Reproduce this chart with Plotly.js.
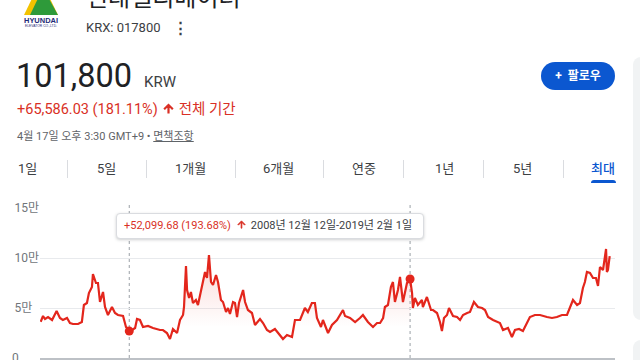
<!DOCTYPE html>
<html><head><meta charset="utf-8">
<script src="https://cdn.plot.ly/plotly-3.0.1.min.js"></script>
<style>
html,body{margin:0;padding:0;width:640px;height:360px;overflow:hidden;background:#fff;font-family:Roboto,Arial,"Noto Sans CJK KR",sans-serif;}
#chart{position:absolute;left:0;top:0;width:640px;height:360px;z-index:1;}
.abs{position:absolute;white-space:nowrap;}
.tab{position:absolute;top:160px;font-size:13px;line-height:18px;color:#3c4043;}
.div{position:absolute;top:160px;width:1px;height:18px;background:#dadce0;}
.red{color:#d93025;}
</style></head><body>
<!-- header -->
<svg class="abs" style="left:20px;top:0px;z-index:2" width="44" height="30" viewBox="0 0 44 30">
  <polygon points="4,15 21,-20 38,15" fill="#f2c200"/>
  <polygon points="10,15 23,-12 38,15" fill="#2e9a3a"/>
  <text x="4" y="23" font-family="Arial" font-weight="bold" font-size="8" fill="#1f2c78" textLength="34" lengthAdjust="spacingAndGlyphs">HYUNDAI</text>
  <text x="5" y="27" font-family="Arial" font-size="3" fill="#1f2c78" textLength="32" lengthAdjust="spacingAndGlyphs">ELEVATOR CO.,LTD.</text>
</svg>
<div class="abs" style="left:86px;top:-15px;font-size:24px;line-height:26px;color:#202124;">현대엘리베이터</div>
<div class="abs" style="left:86px;top:20px;font-size:13px;line-height:16px;color:#3c4043;">KRX: 017800</div>
<div class="abs" style="left:173px;top:19px;font-size:15px;line-height:18px;color:#3c4043;font-weight:bold;">&#8942;</div>

<div class="abs" style="left:16px;top:60px;font-size:32.5px;line-height:32px;color:#202124;">101,800</div>
<div class="abs" style="left:144px;top:75px;font-size:15px;line-height:15px;color:#3c4043;">KRW</div>

<div class="abs red" style="left:17px;top:102px;font-size:14.5px;line-height:16px;">+65,586.03 (181.11%)<svg width="13" height="13" viewBox="0 0 24 24" style="vertical-align:-1px;margin:0 4px 0 4px"><path d="M4 12l1.41 1.41L11 7.83V20h2V7.83l5.58 5.59L20 12l-8-8-8 8z" fill="#d93025" stroke="#d93025" stroke-width="2"/></svg>전체 기간</div>
<div class="abs" style="left:17px;top:130px;font-size:11px;line-height:14px;color:#5f6368;">4월 17일 오후 3:30 GMT+9 • <span style="text-decoration:underline">면책조항</span></div>

<div class="abs" style="left:541px;top:62px;width:74px;height:28px;border-radius:14px;background:#0b57d0;color:#fff;font-size:12px;font-weight:bold;line-height:28px;text-align:center;">+&nbsp; 팔로우</div>

<div class="abs" style="left:633px;top:57px;width:20px;height:263px;border-radius:8px;background:#f1f3f4;"></div>
<div class="abs" style="left:633px;top:340px;width:20px;height:40px;border-radius:8px;background:#f1f3f4;"></div>

<!-- tabs -->
<div class="tab" style="left:18px">1일</div>
<div class="div" style="left:67px"></div>
<div class="tab" style="left:97px">5일</div>
<div class="div" style="left:146px"></div>
<div class="tab" style="left:175px">1개월</div>
<div class="div" style="left:235px"></div>
<div class="tab" style="left:263px">6개월</div>
<div class="div" style="left:323px"></div>
<div class="tab" style="left:352px">연중</div>
<div class="div" style="left:403px"></div>
<div class="tab" style="left:435px">1년</div>
<div class="div" style="left:483px"></div>
<div class="tab" style="left:513px">5년</div>
<div class="div" style="left:563px"></div>
<div class="tab" style="left:591px;color:#0b57d0;font-weight:500;">최대</div>
<div class="abs" style="left:591px;top:180px;width:25px;height:3px;border-radius:3px 3px 0 0;background:#0b57d0;"></div>

<div id="chart"></div>

<!-- tooltip -->
<div class="abs" style="left:116px;top:213px;width:306px;height:24px;border:1px solid #dadce0;border-radius:4px;background:#fff;box-shadow:0 1px 3px rgba(60,64,67,0.25);z-index:3;font-size:11px;line-height:24px;">
  <span class="red" style="margin-left:7px">+52,099.68 (193.68%)</span><svg width="11" height="11" viewBox="0 0 24 24" style="vertical-align:-1px;margin:0 4px 0 5px"><path d="M4 12l1.41 1.41L11 7.83V20h2V7.83l5.58 5.59L20 12l-8-8-8 8z" fill="#d93025" stroke="#d93025" stroke-width="1.5"/></svg><span style="color:#3c4043">2008년 12월 12일-2019년 2월 1일</span>
</div>

<script>
// ---- data (KRW) ----
const dates = [
'2005-10-01','2005-11-01','2005-11-27','2006-01-06','2006-02-28','2006-04-29','2006-06-12','2006-07-21','2006-09-13','2006-10-22',
'2006-12-01','2007-02-06','2007-03-28','2007-04-24','2007-06-03','2007-06-29','2007-08-08','2007-08-21','2007-09-30','2007-10-26',
'2007-11-22','2008-01-01','2008-01-27','2008-03-06','2008-04-28','2008-06-07','2008-07-16','2008-09-21','2008-10-30','2008-12-12',
'2009-01-18','2009-02-27','2009-03-24','2009-05-02','2009-06-11','2009-08-16','2009-10-21','2010-01-22','2010-03-01','2010-04-23',
'2010-06-02','2010-07-11','2010-09-03','2010-10-12','2010-11-21','2010-12-04','2010-12-30','2011-01-13','2011-02-09','2011-03-05',
'2011-04-01','2011-05-10','2011-06-06','2011-07-15','2011-08-11','2011-09-07','2011-10-03','2011-10-29','2011-11-25','2011-12-21',
'2012-01-30','2012-02-25','2012-04-04','2012-05-01','2012-06-10','2012-07-06','2012-08-01','2012-09-10','2012-10-06','2012-11-02',
'2012-11-28','2013-01-21','2013-02-16','2013-03-26','2013-05-18','2013-06-27','2013-09-01','2013-10-11','2013-12-02','2014-01-11',
'2014-03-17','2014-04-26','2014-07-01','2014-08-23','2014-10-28','2014-12-06','2015-02-11','2015-04-16','2015-05-25','2015-07-17',
'2015-08-26','2015-09-22','2015-11-14','2015-12-10','2016-02-15','2016-04-07','2016-06-12','2016-08-30','2016-09-26','2016-12-01',
'2017-02-06','2017-04-11','2017-05-20','2017-07-25','2017-09-30','2017-11-22','2018-01-01','2018-02-10','2018-03-06','2018-04-15',
'2018-05-24','2018-06-20','2018-07-16','2018-08-25','2018-09-21','2018-10-30','2018-11-26','2018-12-22','2019-02-01','2019-02-27',
'2019-03-10','2019-04-06','2019-05-15','2019-07-07','2019-07-20','2019-09-11','2019-11-04','2019-11-30','2020-01-22','2020-03-01',
'2020-03-27','2020-04-23','2020-06-02','2020-06-28','2020-08-20','2020-10-12','2020-11-21','2020-12-30','2021-02-22','2021-04-01',
'2021-05-23','2021-07-15','2021-09-07','2021-10-16','2021-11-25','2022-01-30','2022-05-01','2022-06-10','2022-08-15','2022-10-06',
'2022-11-15','2023-01-08','2023-02-28','2023-04-21','2023-05-31','2023-08-05','2023-10-11','2024-01-11','2024-03-17','2024-05-21',
'2024-07-27','2024-10-01','2024-11-10','2024-12-19','2025-02-11','2025-03-21','2025-04-29','2025-05-25','2025-06-21','2025-07-31',
'2025-09-09','2025-10-18','2025-11-14','2025-12-10','2026-01-19','2026-02-28','2026-03-11','2026-03-25','2026-04-17'
];
const prices = [
36200,42000,39000,41000,38000,47000,40000,38000,40000,35000,
34000,34000,36000,53000,55000,65000,71000,84000,75000,75000,
56000,66000,51000,43000,51000,45000,43000,42000,31000,26900,
28000,30000,39000,38000,31000,32000,30000,28000,28000,25000,
19000,29000,25000,38000,43000,51000,92000,68000,60000,66000,
55000,58000,53000,68000,76000,86000,80000,103000,76000,73000,
83000,76000,58000,56000,46000,50000,44000,56000,55000,41000,
55000,68000,56000,48000,45000,33000,39000,35000,28000,26000,
29000,25000,19000,23000,21000,38000,38000,50000,46000,55000,
55000,40000,31000,38000,25000,33000,38000,48000,42000,40000,
36000,40000,43000,36000,31000,35000,35000,40000,51000,53000,
71000,76000,56000,68000,81000,56000,65000,75000,79000,65000,
50000,60000,53000,58000,51000,61000,48000,48000,45000,36000,
27000,40000,43000,50000,42000,41000,38000,43000,45000,46000,
56000,51000,50000,48000,41000,38000,35000,28000,30000,21000,
28000,29000,27000,35000,41000,43000,43000,41000,40000,41000,
43000,43000,51000,58000,53000,55000,70000,76000,86000,85000,
80000,80000,72000,91000,88000,109000,86000,88000,101800
];
const selDates = ['2008-12-12','2019-02-01'];
const yTickVals = [0, 50000, 100000, 150000];
const yTickText = ['0\u2007\u2007\u2007', '5만\u2007', '10만', '15만'];
const xRange = ['2005-09-22','2026-06-26'];

const selVals = selDates.map(d => prices[dates.indexOf(d)]);
const fillX = [], fillY = [];
dates.forEach((d,i) => { if (d >= selDates[0] && d <= selDates[1]) { fillX.push(d); fillY.push(prices[i]); } });

const lineColor = '#e3261c';
const traces = [
  {x: fillX, y: fillY, type:'scatter', mode:'lines', line:{width:0}, fill:'tozeroy',
   fillcolor:'rgba(227,38,28,0.06)',
   fillgradient:{type:'vertical', colorscale:[[0,'rgba(227,38,28,0)'],[0.3,'rgba(227,38,28,0)'],[1,'rgba(227,38,28,0.18)']]},
   hoverinfo:'skip'},
  {x: dates, y: prices, type:'scatter', mode:'lines', line:{color:lineColor, width:2.2}, hoverinfo:'skip'},
  {x: selDates, y: selVals, type:'scatter', mode:'markers', marker:{color:lineColor, size:9}, hoverinfo:'skip'}
];
const font = 'Roboto, Arial, "Noto Sans CJK KR", sans-serif';
const layout = {
  width:640, height:360,
  margin:{l:40, r:25, t:208, b:2},
  paper_bgcolor:'rgba(0,0,0,0)', plot_bgcolor:'rgba(0,0,0,0)',
  showlegend:false,
  font:{family:font},
  xaxis:{type:'date', range:xRange, showgrid:false, zeroline:false, showline:true,
         linecolor:'#bdc1c6', linewidth:2, ticks:'outside', ticklen:3, tickcolor:'#bdc1c6',
         tick0:'2008-01-01', dtick:'M36', showticklabels:false, fixedrange:true, automargin:false},
  yaxis:{range:[0,150000], tickmode:'array', tickvals:yTickVals, ticktext:yTickText,
         showgrid:true, gridcolor:'#e8eaed', gridwidth:1, zeroline:false, showline:false, ticks:'',
         ticklabeloverflow:'allow',
         tickfont:{family:font, size:12, color:'#70757a'}, fixedrange:true, automargin:false},
  shapes: selDates.map(d => ({type:'line', xref:'x', yref:'paper', x0:d, x1:d, y0:0, y1:1.02,
         line:{color:'#9aa0a6', width:1, dash:'dot'}, layer:'below'}))
};
Plotly.newPlot('chart', traces, layout, {staticPlot:true, displayModeBar:false});
</script>
</body></html>
